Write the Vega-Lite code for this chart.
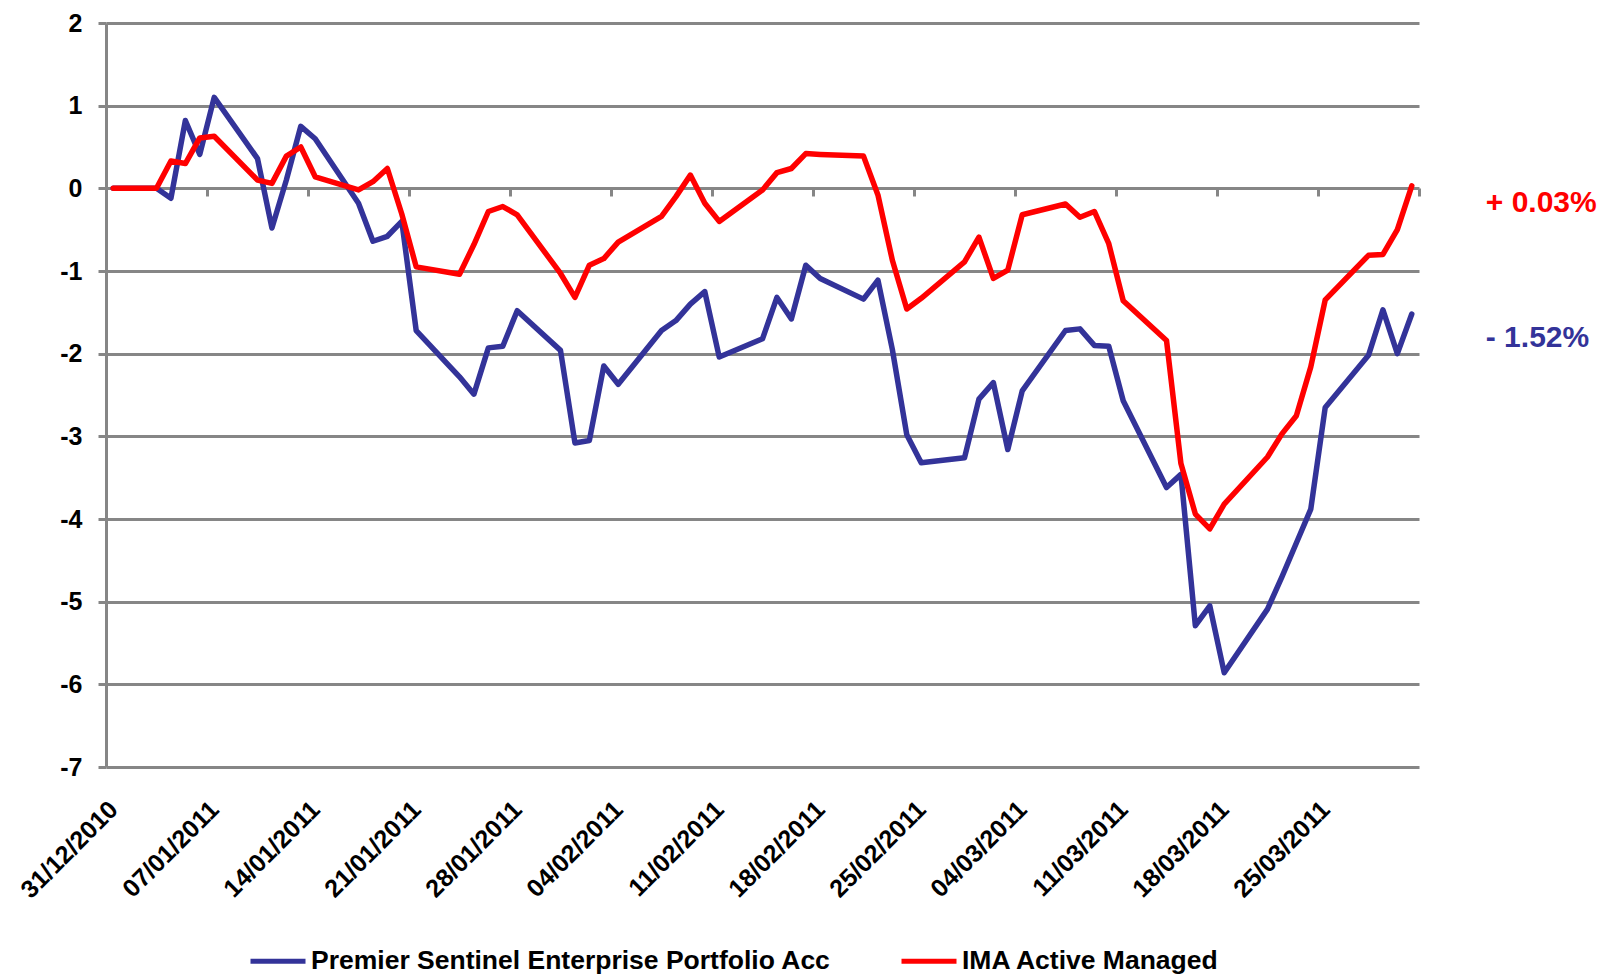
{
  "$schema": "https://vega.github.io/schema/vega-lite/v6.json",
  "autosize": {"type": "none"},
  "padding": {"left": 106, "top": 23, "right": 199, "bottom": 211},
  "width": 1313,
  "height": 744,
  "background": "white",
  "config": {
    "view": {"stroke": null},
    "font": "Liberation Sans"
  },
  "datasets": {
    "series": [
      {"date": "2010-12-31", "series": "Premier Sentinel Enterprise Portfolio Acc", "value": 0},
      {"date": "2011-01-03", "series": "Premier Sentinel Enterprise Portfolio Acc", "value": 0},
      {"date": "2011-01-04", "series": "Premier Sentinel Enterprise Portfolio Acc", "value": -0.12},
      {"date": "2011-01-05", "series": "Premier Sentinel Enterprise Portfolio Acc", "value": 0.82},
      {"date": "2011-01-06", "series": "Premier Sentinel Enterprise Portfolio Acc", "value": 0.41},
      {"date": "2011-01-07", "series": "Premier Sentinel Enterprise Portfolio Acc", "value": 1.10},
      {"date": "2011-01-10", "series": "Premier Sentinel Enterprise Portfolio Acc", "value": 0.36},
      {"date": "2011-01-11", "series": "Premier Sentinel Enterprise Portfolio Acc", "value": -0.48},
      {"date": "2011-01-12", "series": "Premier Sentinel Enterprise Portfolio Acc", "value": 0.10},
      {"date": "2011-01-13", "series": "Premier Sentinel Enterprise Portfolio Acc", "value": 0.75},
      {"date": "2011-01-14", "series": "Premier Sentinel Enterprise Portfolio Acc", "value": 0.60},
      {"date": "2011-01-17", "series": "Premier Sentinel Enterprise Portfolio Acc", "value": -0.18},
      {"date": "2011-01-18", "series": "Premier Sentinel Enterprise Portfolio Acc", "value": -0.64},
      {"date": "2011-01-19", "series": "Premier Sentinel Enterprise Portfolio Acc", "value": -0.58},
      {"date": "2011-01-20", "series": "Premier Sentinel Enterprise Portfolio Acc", "value": -0.40},
      {"date": "2011-01-21", "series": "Premier Sentinel Enterprise Portfolio Acc", "value": -1.72},
      {"date": "2011-01-24", "series": "Premier Sentinel Enterprise Portfolio Acc", "value": -2.28},
      {"date": "2011-01-25", "series": "Premier Sentinel Enterprise Portfolio Acc", "value": -2.49},
      {"date": "2011-01-26", "series": "Premier Sentinel Enterprise Portfolio Acc", "value": -1.93},
      {"date": "2011-01-27", "series": "Premier Sentinel Enterprise Portfolio Acc", "value": -1.91},
      {"date": "2011-01-28", "series": "Premier Sentinel Enterprise Portfolio Acc", "value": -1.48},
      {"date": "2011-01-31", "series": "Premier Sentinel Enterprise Portfolio Acc", "value": -1.96},
      {"date": "2011-02-01", "series": "Premier Sentinel Enterprise Portfolio Acc", "value": -3.08},
      {"date": "2011-02-02", "series": "Premier Sentinel Enterprise Portfolio Acc", "value": -3.05},
      {"date": "2011-02-03", "series": "Premier Sentinel Enterprise Portfolio Acc", "value": -2.15},
      {"date": "2011-02-04", "series": "Premier Sentinel Enterprise Portfolio Acc", "value": -2.37},
      {"date": "2011-02-07", "series": "Premier Sentinel Enterprise Portfolio Acc", "value": -1.72},
      {"date": "2011-02-08", "series": "Premier Sentinel Enterprise Portfolio Acc", "value": -1.60},
      {"date": "2011-02-09", "series": "Premier Sentinel Enterprise Portfolio Acc", "value": -1.40},
      {"date": "2011-02-10", "series": "Premier Sentinel Enterprise Portfolio Acc", "value": -1.25},
      {"date": "2011-02-11", "series": "Premier Sentinel Enterprise Portfolio Acc", "value": -2.04},
      {"date": "2011-02-14", "series": "Premier Sentinel Enterprise Portfolio Acc", "value": -1.82},
      {"date": "2011-02-15", "series": "Premier Sentinel Enterprise Portfolio Acc", "value": -1.32},
      {"date": "2011-02-16", "series": "Premier Sentinel Enterprise Portfolio Acc", "value": -1.58},
      {"date": "2011-02-17", "series": "Premier Sentinel Enterprise Portfolio Acc", "value": -0.93},
      {"date": "2011-02-18", "series": "Premier Sentinel Enterprise Portfolio Acc", "value": -1.09},
      {"date": "2011-02-21", "series": "Premier Sentinel Enterprise Portfolio Acc", "value": -1.34},
      {"date": "2011-02-22", "series": "Premier Sentinel Enterprise Portfolio Acc", "value": -1.11},
      {"date": "2011-02-23", "series": "Premier Sentinel Enterprise Portfolio Acc", "value": -1.95},
      {"date": "2011-02-24", "series": "Premier Sentinel Enterprise Portfolio Acc", "value": -2.98},
      {"date": "2011-02-25", "series": "Premier Sentinel Enterprise Portfolio Acc", "value": -3.32},
      {"date": "2011-02-28", "series": "Premier Sentinel Enterprise Portfolio Acc", "value": -3.26},
      {"date": "2011-03-01", "series": "Premier Sentinel Enterprise Portfolio Acc", "value": -2.55},
      {"date": "2011-03-02", "series": "Premier Sentinel Enterprise Portfolio Acc", "value": -2.35},
      {"date": "2011-03-03", "series": "Premier Sentinel Enterprise Portfolio Acc", "value": -3.16},
      {"date": "2011-03-04", "series": "Premier Sentinel Enterprise Portfolio Acc", "value": -2.45},
      {"date": "2011-03-07", "series": "Premier Sentinel Enterprise Portfolio Acc", "value": -1.72},
      {"date": "2011-03-08", "series": "Premier Sentinel Enterprise Portfolio Acc", "value": -1.70},
      {"date": "2011-03-09", "series": "Premier Sentinel Enterprise Portfolio Acc", "value": -1.90},
      {"date": "2011-03-10", "series": "Premier Sentinel Enterprise Portfolio Acc", "value": -1.91},
      {"date": "2011-03-11", "series": "Premier Sentinel Enterprise Portfolio Acc", "value": -2.57},
      {"date": "2011-03-14", "series": "Premier Sentinel Enterprise Portfolio Acc", "value": -3.62},
      {"date": "2011-03-15", "series": "Premier Sentinel Enterprise Portfolio Acc", "value": -3.46},
      {"date": "2011-03-16", "series": "Premier Sentinel Enterprise Portfolio Acc", "value": -5.29},
      {"date": "2011-03-17", "series": "Premier Sentinel Enterprise Portfolio Acc", "value": -5.05},
      {"date": "2011-03-18", "series": "Premier Sentinel Enterprise Portfolio Acc", "value": -5.86},
      {"date": "2011-03-21", "series": "Premier Sentinel Enterprise Portfolio Acc", "value": -5.09},
      {"date": "2011-03-22", "series": "Premier Sentinel Enterprise Portfolio Acc", "value": -4.70},
      {"date": "2011-03-23", "series": "Premier Sentinel Enterprise Portfolio Acc", "value": -4.29},
      {"date": "2011-03-24", "series": "Premier Sentinel Enterprise Portfolio Acc", "value": -3.88},
      {"date": "2011-03-25", "series": "Premier Sentinel Enterprise Portfolio Acc", "value": -2.65},
      {"date": "2011-03-28", "series": "Premier Sentinel Enterprise Portfolio Acc", "value": -2.02},
      {"date": "2011-03-29", "series": "Premier Sentinel Enterprise Portfolio Acc", "value": -1.47},
      {"date": "2011-03-30", "series": "Premier Sentinel Enterprise Portfolio Acc", "value": -2.00},
      {"date": "2011-03-31", "series": "Premier Sentinel Enterprise Portfolio Acc", "value": -1.52},
      {"date": "2010-12-31", "series": "IMA Active Managed", "value": 0},
      {"date": "2011-01-03", "series": "IMA Active Managed", "value": 0},
      {"date": "2011-01-04", "series": "IMA Active Managed", "value": 0.33},
      {"date": "2011-01-05", "series": "IMA Active Managed", "value": 0.30},
      {"date": "2011-01-06", "series": "IMA Active Managed", "value": 0.61},
      {"date": "2011-01-07", "series": "IMA Active Managed", "value": 0.63},
      {"date": "2011-01-10", "series": "IMA Active Managed", "value": 0.10},
      {"date": "2011-01-11", "series": "IMA Active Managed", "value": 0.06},
      {"date": "2011-01-12", "series": "IMA Active Managed", "value": 0.39},
      {"date": "2011-01-13", "series": "IMA Active Managed", "value": 0.50},
      {"date": "2011-01-14", "series": "IMA Active Managed", "value": 0.14},
      {"date": "2011-01-17", "series": "IMA Active Managed", "value": -0.02},
      {"date": "2011-01-18", "series": "IMA Active Managed", "value": 0.08},
      {"date": "2011-01-19", "series": "IMA Active Managed", "value": 0.24},
      {"date": "2011-01-20", "series": "IMA Active Managed", "value": -0.31},
      {"date": "2011-01-21", "series": "IMA Active Managed", "value": -0.95},
      {"date": "2011-01-24", "series": "IMA Active Managed", "value": -1.04},
      {"date": "2011-01-25", "series": "IMA Active Managed", "value": -0.68},
      {"date": "2011-01-26", "series": "IMA Active Managed", "value": -0.28},
      {"date": "2011-01-27", "series": "IMA Active Managed", "value": -0.22},
      {"date": "2011-01-28", "series": "IMA Active Managed", "value": -0.32},
      {"date": "2011-01-31", "series": "IMA Active Managed", "value": -1.03},
      {"date": "2011-02-01", "series": "IMA Active Managed", "value": -1.32},
      {"date": "2011-02-02", "series": "IMA Active Managed", "value": -0.93},
      {"date": "2011-02-03", "series": "IMA Active Managed", "value": -0.85},
      {"date": "2011-02-04", "series": "IMA Active Managed", "value": -0.65},
      {"date": "2011-02-07", "series": "IMA Active Managed", "value": -0.34},
      {"date": "2011-02-08", "series": "IMA Active Managed", "value": -0.10},
      {"date": "2011-02-09", "series": "IMA Active Managed", "value": 0.16},
      {"date": "2011-02-10", "series": "IMA Active Managed", "value": -0.18},
      {"date": "2011-02-11", "series": "IMA Active Managed", "value": -0.40},
      {"date": "2011-02-14", "series": "IMA Active Managed", "value": -0.02},
      {"date": "2011-02-15", "series": "IMA Active Managed", "value": 0.19},
      {"date": "2011-02-16", "series": "IMA Active Managed", "value": 0.24},
      {"date": "2011-02-17", "series": "IMA Active Managed", "value": 0.42},
      {"date": "2011-02-18", "series": "IMA Active Managed", "value": 0.41},
      {"date": "2011-02-21", "series": "IMA Active Managed", "value": 0.39},
      {"date": "2011-02-22", "series": "IMA Active Managed", "value": -0.08},
      {"date": "2011-02-23", "series": "IMA Active Managed", "value": -0.87},
      {"date": "2011-02-24", "series": "IMA Active Managed", "value": -1.46},
      {"date": "2011-02-25", "series": "IMA Active Managed", "value": -1.33},
      {"date": "2011-02-28", "series": "IMA Active Managed", "value": -0.89},
      {"date": "2011-03-01", "series": "IMA Active Managed", "value": -0.59},
      {"date": "2011-03-02", "series": "IMA Active Managed", "value": -1.09},
      {"date": "2011-03-03", "series": "IMA Active Managed", "value": -0.99},
      {"date": "2011-03-04", "series": "IMA Active Managed", "value": -0.32},
      {"date": "2011-03-07", "series": "IMA Active Managed", "value": -0.19},
      {"date": "2011-03-08", "series": "IMA Active Managed", "value": -0.35},
      {"date": "2011-03-09", "series": "IMA Active Managed", "value": -0.28},
      {"date": "2011-03-10", "series": "IMA Active Managed", "value": -0.67},
      {"date": "2011-03-11", "series": "IMA Active Managed", "value": -1.36},
      {"date": "2011-03-14", "series": "IMA Active Managed", "value": -1.84},
      {"date": "2011-03-15", "series": "IMA Active Managed", "value": -3.33},
      {"date": "2011-03-16", "series": "IMA Active Managed", "value": -3.94},
      {"date": "2011-03-17", "series": "IMA Active Managed", "value": -4.12},
      {"date": "2011-03-18", "series": "IMA Active Managed", "value": -3.82},
      {"date": "2011-03-21", "series": "IMA Active Managed", "value": -3.25},
      {"date": "2011-03-22", "series": "IMA Active Managed", "value": -2.97},
      {"date": "2011-03-23", "series": "IMA Active Managed", "value": -2.75},
      {"date": "2011-03-24", "series": "IMA Active Managed", "value": -2.16},
      {"date": "2011-03-25", "series": "IMA Active Managed", "value": -1.35},
      {"date": "2011-03-28", "series": "IMA Active Managed", "value": -0.81},
      {"date": "2011-03-29", "series": "IMA Active Managed", "value": -0.80},
      {"date": "2011-03-30", "series": "IMA Active Managed", "value": -0.50},
      {"date": "2011-03-31", "series": "IMA Active Managed", "value": 0.03}
    ]
  },
  "resolve": {"axis": {"x": "independent"}},
  "layer": [
    {
      "data": {"name": "series"},
      "transform": [{"filter": "datum.series === 'Premier Sentinel Enterprise Portfolio Acc'"}],
      "mark": {"type": "line", "strokeWidth": 5.5, "strokeJoin": "round", "strokeCap": "round"},
      "encoding": {
        "x": {
          "field": "date", "type": "temporal", "title": null,
          "scale": {"type": "utc", "domain": [{"year": 2010, "month": 12, "date": 30, "hours": 12, "utc": true}, {"year": 2011, "month": 3, "date": 31, "hours": 12, "utc": true}]},
          "axis": {
            "orient": "bottom",
            "values": [
              {"year": 2010, "month": 12, "date": 31, "utc": true},
              {"year": 2011, "month": 1, "date": 7, "utc": true},
              {"year": 2011, "month": 1, "date": 14, "utc": true},
              {"year": 2011, "month": 1, "date": 21, "utc": true},
              {"year": 2011, "month": 1, "date": 28, "utc": true},
              {"year": 2011, "month": 2, "date": 4, "utc": true},
              {"year": 2011, "month": 2, "date": 11, "utc": true},
              {"year": 2011, "month": 2, "date": 18, "utc": true},
              {"year": 2011, "month": 2, "date": 25, "utc": true},
              {"year": 2011, "month": 3, "date": 4, "utc": true},
              {"year": 2011, "month": 3, "date": 11, "utc": true},
              {"year": 2011, "month": 3, "date": 18, "utc": true},
              {"year": 2011, "month": 3, "date": 25, "utc": true}
            ],
            "format": "%d/%m/%Y",
            "labelAngle": -45,
            "labelAlign": "right",
            "labelBaseline": "middle",
            "labelFont": "Liberation Sans",
            "labelFontWeight": "bold",
            "labelFontSize": 25,
            "labelColor": "#000000",
            "labelPadding": 38,
            "labelOverlap": false,
            "labelFlush": false,
            "labelBound": false,
            "domain": false,
            "ticks": false,
            "tickSize": 0,
            "grid": false
          }
        },
        "y": {
          "field": "value", "type": "quantitative", "title": null,
          "scale": {"domain": [-7, 2], "nice": false},
          "axis": {
            "values": [-7, -6, -5, -4, -3, -2, -1, 0, 1, 2],
            "labelExpr": "datum.value + ''",
            "labelFont": "Liberation Sans",
            "labelFontWeight": "bold",
            "labelFontSize": 25,
            "labelColor": "#000000",
            "labelPadding": 16,
            "grid": true,
            "gridColor": "#868686",
            "gridWidth": 3,
            "domain": true,
            "domainColor": "#868686",
            "domainWidth": 3,
            "ticks": true,
            "tickColor": "#868686",
            "tickWidth": 3,
            "tickSize": 8
          }
        },
        "color": {
          "field": "series", "type": "nominal",
          "scale": {"domain": ["Premier Sentinel Enterprise Portfolio Acc", "IMA Active Managed"], "range": ["#333399", "#ff0000"]},
          "legend": {
            "title": null,
            "orient": "none",
            "legendX": 142,
            "legendY": 908,
            "direction": "horizontal",
            "symbolType": "stroke",
            "symbolSize": 3025,
            "symbolStrokeWidth": 5,
            "labelFont": "Liberation Sans",
            "labelFontWeight": "bold",
            "labelFontSize": 26.5,
            "labelColor": "#000000",
            "labelOffset": 3,
            "labelLimit": 0,
            "columnPadding": 60,
            "padding": 0
          }
        }
      }
    },
    {
      "data": {"name": "series"},
      "transform": [{"filter": "datum.series === 'IMA Active Managed'"}],
      "mark": {"type": "line", "strokeWidth": 5.5, "strokeJoin": "round", "strokeCap": "round"},
      "encoding": {
        "x": {
          "field": "date", "type": "temporal", "title": null,
          "axis": {
            "orient": "bottom",
            "offset": -579,
            "values": [
              {"year": 2011, "month": 1, "date": 6, "hours": 12, "utc": true},
              {"year": 2011, "month": 1, "date": 13, "hours": 12, "utc": true},
              {"year": 2011, "month": 1, "date": 20, "hours": 12, "utc": true},
              {"year": 2011, "month": 1, "date": 27, "hours": 12, "utc": true},
              {"year": 2011, "month": 2, "date": 3, "hours": 12, "utc": true},
              {"year": 2011, "month": 2, "date": 10, "hours": 12, "utc": true},
              {"year": 2011, "month": 2, "date": 17, "hours": 12, "utc": true},
              {"year": 2011, "month": 2, "date": 24, "hours": 12, "utc": true},
              {"year": 2011, "month": 3, "date": 3, "hours": 12, "utc": true},
              {"year": 2011, "month": 3, "date": 10, "hours": 12, "utc": true},
              {"year": 2011, "month": 3, "date": 17, "hours": 12, "utc": true},
              {"year": 2011, "month": 3, "date": 24, "hours": 12, "utc": true},
              {"year": 2011, "month": 3, "date": 31, "hours": 12, "utc": true}
            ],
            "labels": false,
            "domain": false,
            "grid": false,
            "ticks": true,
            "tickSize": 8,
            "tickWidth": 3,
            "tickColor": "#868686"
          }
        },
        "y": {"field": "value", "type": "quantitative", "title": null},
        "color": {"field": "series", "type": "nominal"}
      }
    },
    {
      "data": {"values": [{"date": "2011-03-31", "value": 0.03, "label": "+ 0.03%"}]},
      "mark": {"type": "text", "align": "left", "baseline": "middle", "dx": 74, "dy": 17, "font": "Liberation Sans", "fontWeight": "bold", "fontSize": 30, "color": "#ff0000"},
      "encoding": {
        "x": {"field": "date", "type": "temporal", "title": null, "axis": null},
        "y": {"field": "value", "type": "quantitative", "title": null},
        "text": {"field": "label"}
      }
    },
    {
      "data": {"values": [{"date": "2011-03-31", "value": -1.52, "label": "- 1.52%"}]},
      "mark": {"type": "text", "align": "left", "baseline": "middle", "dx": 74, "dy": 24, "font": "Liberation Sans", "fontWeight": "bold", "fontSize": 30, "color": "#333399"},
      "encoding": {
        "x": {"field": "date", "type": "temporal", "title": null, "axis": null},
        "y": {"field": "value", "type": "quantitative", "title": null},
        "text": {"field": "label"}
      }
    }
  ]
}
